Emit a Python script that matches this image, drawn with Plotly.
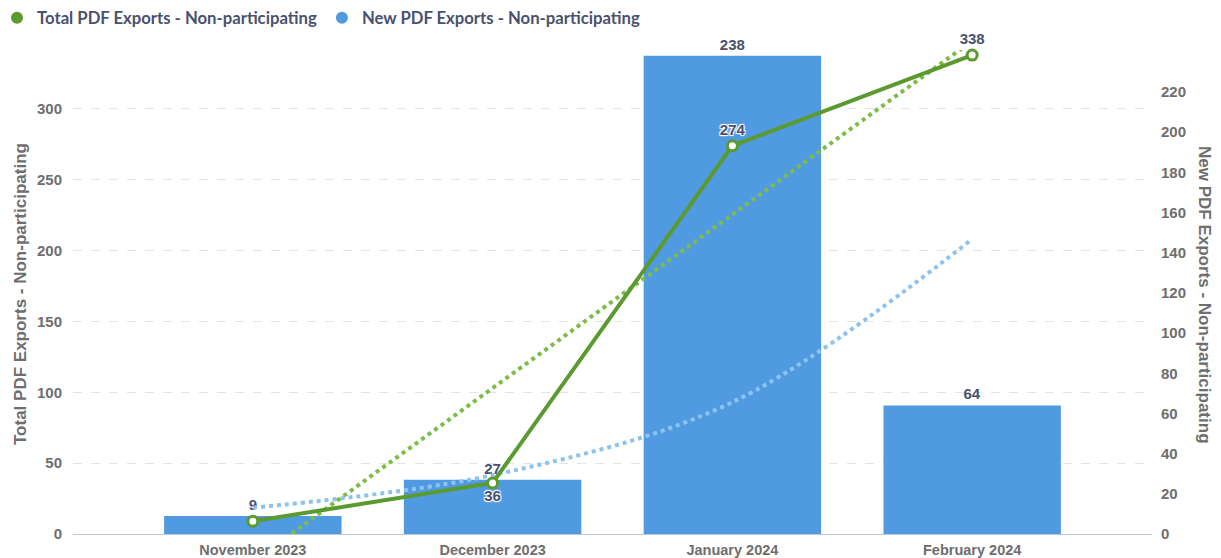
import plotly.graph_objects as go

months = ["November 2023", "December 2023", "January 2024", "February 2024"]
total_exports = [9, 36, 274, 338]          # line, left axis
new_exports = [9, 27, 238, 64]             # bars, right axis
total_trend = [-19.5, 103, 225.5, 348]     # dotted green trend (left axis)
new_trend = [13.1, 29.3, 65.6, 146.8]      # dotted blue trend (right axis)
line_labels = ["", "36", "274", "338"]
line_label_pos = ["top center", "bottom center", "top center", "top center"]
right_ticks = [0, 20, 40, 60, 80, 100, 120, 140, 160, 180, 200, 220]
left_ticks = [0, 50, 100, 150, 200, 250, 300]

GREEN = "#5b9a2f"
GREEN_LIGHT = "#7dbd45"
BLUE = "#4f9ae0"
BLUE_LIGHT = "#8ec3ee"
LABEL = "#4a5170"
GREY = "#6e6e6e"
TICKFONT = dict(family="Liberation Sans, Arial", size=15, color=GREY, weight="bold")
SHADOW = "1px 1px 1px #fff, -1px -1px 1px #fff, 1px -1px 1px #fff, -1px 1px 1px #fff"

L, R, T, B = 73, 69, 50, 24
PW = 1221 - L - R
PH = 558 - T - B

fig = go.Figure()

fig.add_trace(go.Bar(
    x=months, y=new_exports, yaxis="y", name="New PDF Exports - Non-participating",
    marker=dict(color=BLUE, line=dict(width=0)), width=0.74,
    text=[str(v) for v in new_exports], textposition="outside", cliponaxis=False,
    textfont=dict(family="Liberation Sans, Arial", size=15, color=LABEL, weight="bold"),
    showlegend=False,
))
fig.add_trace(go.Scatter(
    x=months, y=new_trend, yaxis="y", mode="lines", line=dict(color=BLUE_LIGHT, width=4, dash="dot", shape="spline"),
    showlegend=False, hoverinfo="skip",
))
fig.add_trace(go.Scatter(
    x=months, y=total_trend, yaxis="y2", mode="lines", line=dict(color=GREEN_LIGHT, width=4, dash="dot"),
    showlegend=False, hoverinfo="skip",
))
fig.add_trace(go.Scatter(
    x=months, y=total_exports, yaxis="y2", mode="lines+markers+text",
    name="Total PDF Exports - Non-participating",
    line=dict(color=GREEN, width=4),
    marker=dict(size=10, color="white", line=dict(color=GREEN, width=3)),
    text=line_labels, textposition=line_label_pos, cliponaxis=False,
    textfont=dict(family="Liberation Sans, Arial", size=15, color=LABEL, weight="bold", shadow=SHADOW),
    showlegend=False,
))
# legend entries
fig.add_trace(go.Scatter(x=[None], y=[None], mode="markers", name="Total PDF Exports - Non-participating",
                         marker=dict(color=GREEN, size=12, symbol="circle")))
fig.add_trace(go.Scatter(x=[None], y=[None], mode="markers", name="New PDF Exports - Non-participating",
                         marker=dict(color=BLUE, size=12, symbol="circle")))

fig.update_layout(
    width=1221, height=558,
    margin=dict(l=L, r=R, t=T, b=B, autoexpand=False),
    paper_bgcolor="white", plot_bgcolor="white",
    xaxis=dict(range=[-0.75, 3.75], showgrid=False, showline=True, linecolor="#c0c6d4", linewidth=1,
               ticks="", tickfont=dict(family="Liberation Sans, Arial", size=14.5, color=GREY, weight="bold"),
               ticklabelstandoff=3, fixedrange=True),
    yaxis=dict(side="right", range=[0, 240.9], tickvals=right_ticks, showgrid=False, zeroline=False,
               showline=False, tickfont=TICKFONT, ticks="", ticklabelstandoff=8),
    yaxis2=dict(side="left", overlaying="y", range=[0, 341.6], tickvals=left_ticks, showgrid=True,
                gridcolor="#e3e3e3", griddash="dash", gridwidth=1, zeroline=False, showline=False,
                tickfont=TICKFONT, ticks="", ticklabelstandoff=10),
    legend=dict(orientation="h", x=(-3 - L) / PW, xanchor="left", y=1 + (T - 18) / PH, yanchor="middle",
                font=dict(family="Lato", size=16.7, color=LABEL, weight="bold"),
                itemwidth=30, tracegroupgap=0),
    annotations=[
        dict(text="Total PDF Exports - Non-participating", xref="paper", yref="paper",
             x=(20 - L) / PW, y=(534 - 294) / PH, xanchor="center", yanchor="middle", textangle=-90,
             showarrow=False, font=dict(family="Liberation Sans, Arial", size=17, color=GREY, weight="bold")),
        dict(text="New PDF Exports - Non-participating", xref="paper", yref="paper",
             x=(1205 - L) / PW, y=(534 - 295) / PH, xanchor="center", yanchor="middle", textangle=90,
             showarrow=False, font=dict(family="Liberation Sans, Arial", size=17, color=GREY, weight="bold")),
    ],
    showlegend=True,
)

fig.write_html("out.html", config={"displayModeBar": False},
               post_script="document.body.style.margin='0';document.body.style.overflow='hidden';")
